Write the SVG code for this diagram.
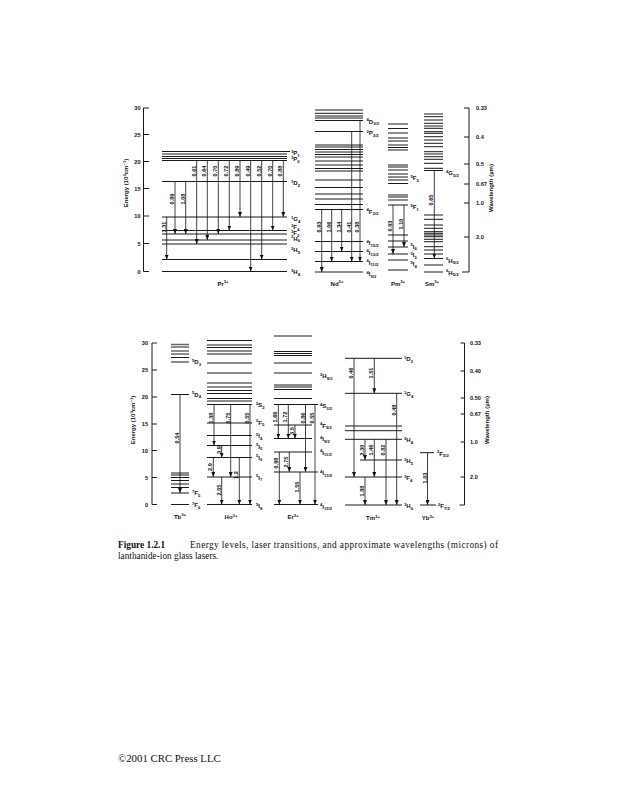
<svg xmlns="http://www.w3.org/2000/svg" width="617" height="800" viewBox="0 0 617 800">
<style>
.bg{fill:#fff}
.lv{stroke:#1a1a1a;stroke-width:1;fill:none}
.lg{stroke:#666;stroke-width:1.6;fill:none}
.ax{stroke:#1a1a1a;stroke-width:1;fill:none}
.ar{stroke:#111;stroke-width:0.8;fill:none;marker-end:url(#ah)}
text{font-family:"Liberation Sans",Arial,sans-serif;fill:#111}
.n{font-size:5.6px;font-weight:bold;text-anchor:middle}
.t{font-size:6px;font-weight:bold}
.s{font-size:4.2px}
.ion{font-size:6px;font-weight:bold;text-anchor:middle}
.tk{font-size:5.6px;font-weight:bold}
.tl{text-anchor:end}
.al{font-size:6px;font-weight:bold;text-anchor:middle}
.cap{font-family:"Liberation Serif","Times New Roman",serif;font-size:9.3px}
</style>
<defs>
<marker id="ah" viewBox="0 0 10 8" refX="10" refY="4" markerWidth="5" markerHeight="4" orient="auto" markerUnits="userSpaceOnUse"><path d="M0,0L10,4L0,8z" fill="#111"/></marker>
</defs>
<rect class="bg" x="0" y="0" width="617" height="800"/>

<!-- TOP AXES -->
<g id="axes-top">
<path class="ax" d="M143.5 108V271.5M143.5 108h5.5M143.5 134.5h5.5M143.5 161.5h5.5M143.5 188.5h5.5M143.5 216h5.5M143.5 243.5h5.5M143.5 271.5h5.5"/>
<text class="tk tl" x="140.5" y="110">30</text>
<text class="tk tl" x="140.5" y="136.5">25</text>
<text class="tk tl" x="140.5" y="163.5">20</text>
<text class="tk tl" x="140.5" y="190.5">15</text>
<text class="tk tl" x="140.5" y="218">10</text>
<text class="tk tl" x="140.5" y="245.5">5</text>
<text class="tk tl" x="140.5" y="273.5">0</text>
<text class="al" transform="translate(128 183) rotate(-90)">Energy (10<tspan class="s" dy="-2">3</tspan><tspan dy="2">cm</tspan><tspan class="s" dy="-2">−1</tspan><tspan dy="2">)</tspan></text>
<path class="ax" d="M469 108V272M469 108h-5M469 137h-5M469 164h-5M469 184h-5M469 203h-5M469 237h-5M469 272h-7"/>
<text class="tk" x="476" y="110">0.33</text>
<text class="tk" x="476" y="139">0.4</text>
<text class="tk" x="476" y="166">0.5</text>
<text class="tk" x="476" y="186">0.67</text>
<text class="tk" x="476" y="205">1.0</text>
<text class="tk" x="476" y="239">2.0</text>
<text class="al" transform="translate(493 188) rotate(-90)">Wavelength (µm)</text>
</g>

<!-- Pr -->
<g id="pr">
<path class="lv" d="M162 151.5h128M162 154h125M162 156.5h125M162 158.5h125M162 160.5h125M162 181.5h125M162 217h125M162 230.5h125M162 234h125M162 240h125M162 244h125M162 259.5h125M162 271.5h125"/>
<text class="t" x="291" y="155"><tspan class="s" dy="-2.2">3</tspan><tspan dy="2.2">P</tspan><tspan class="s" dy="1.6">1</tspan></text>
<text class="t" x="291" y="161"><tspan class="s" dy="-2.2">3</tspan><tspan dy="2.2">P</tspan><tspan class="s" dy="1.6">0</tspan></text>
<text class="t" x="291" y="185"><tspan class="s" dy="-2.2">1</tspan><tspan dy="2.2">D</tspan><tspan class="s" dy="1.6">2</tspan></text>
<text class="t" x="291" y="221"><tspan class="s" dy="-2.2">1</tspan><tspan dy="2.2">G</tspan><tspan class="s" dy="1.6">4</tspan></text>
<text class="t" x="291" y="229"><tspan class="s" dy="-2.2">3</tspan><tspan dy="2.2">F</tspan><tspan class="s" dy="1.6">4</tspan></text>
<text class="t" x="291" y="235"><tspan class="s" dy="-2.2">3</tspan><tspan dy="2.2">F</tspan><tspan class="s" dy="1.6">2</tspan></text>
<text class="t" x="291" y="240.5"><tspan class="s" dy="-2.2">3</tspan><tspan dy="2.2">H</tspan><tspan class="s" dy="1.6">6</tspan></text>
<text class="t" x="291" y="252"><tspan class="s" dy="-2.2">3</tspan><tspan dy="2.2">H</tspan><tspan class="s" dy="1.6">5</tspan></text>
<text class="t" x="291" y="274"><tspan class="s" dy="-2.2">3</tspan><tspan dy="2.2">H</tspan><tspan class="s" dy="1.6">4</tspan></text>
<text class="ion" x="223" y="285.5">Pr<tspan class="s" dy="-2.5">3+</tspan></text>
</g>

<!-- Nd -->
<g id="nd">
<path class="lv" d="M315 110h48M315 113.3h48M315 116h48M315 118h48M315 120.5h48M315 131.5h48M315 145h48M315 147h48M315 149.5h48M315 152h48M315 154.5h48M315 157h48M315 161h48M315 165h48M315 168.5h48M315 171h48M315 187.5h48M315 194h48M315 199h48M315 204.5h48M315 209.5h48M315 241.5h48M315 251.5h48M315 261.5h48M315 272h48"/>
<path class="lg" d="M315 180h48"/>
<text class="t" x="366.5" y="123.5"><tspan class="s" dy="-2.2">4</tspan><tspan dy="2.2">D</tspan><tspan class="s" dy="1.6">3/2</tspan></text>
<text class="t" x="366.5" y="135"><tspan class="s" dy="-2.2">2</tspan><tspan dy="2.2">P</tspan><tspan class="s" dy="1.6">3/2</tspan></text>
<text class="t" x="366.5" y="213.5"><tspan class="s" dy="-2.2">4</tspan><tspan dy="2.2">F</tspan><tspan class="s" dy="1.6">3/2</tspan></text>
<text class="t" x="366.5" y="245"><tspan class="s" dy="-2.2">4</tspan><tspan dy="2.2">I</tspan><tspan class="s" dy="1.6">15/2</tspan></text>
<text class="t" x="366.5" y="254.5"><tspan class="s" dy="-2.2">4</tspan><tspan dy="2.2">I</tspan><tspan class="s" dy="1.6">13/2</tspan></text>
<text class="t" x="366.5" y="264.5"><tspan class="s" dy="-2.2">4</tspan><tspan dy="2.2">I</tspan><tspan class="s" dy="1.6">11/2</tspan></text>
<text class="t" x="366.5" y="276"><tspan class="s" dy="-2.2">4</tspan><tspan dy="2.2">I</tspan><tspan class="s" dy="1.6">9/2</tspan></text>
<text class="ion" x="337" y="285.5">Nd<tspan class="s" dy="-2.5">3+</tspan></text>
</g>

<!-- Pm -->
<g id="pm">
<path class="lv" d="M388 124h20M388 128.5h20M388 133h20M388 138h20M388 141h20M388 145h20M388 147.5h20M388 150h20M388 165h20M388 167h20M388 170h20M388 174h20M388 177h20M388 180h20M388 183.5h20M388 195h20M388 197h20M388 200h20M388 205h20M388 235h20M388 241h20M388 247h20M388 254h20M388 260h20M388 270h20"/>
<text class="t" x="410.5" y="180"><tspan class="s" dy="-2.2">5</tspan><tspan dy="2.2">F</tspan><tspan class="s" dy="1.6">5</tspan></text>
<text class="t" x="410.5" y="209"><tspan class="s" dy="-2.2">5</tspan><tspan dy="2.2">F</tspan><tspan class="s" dy="1.6">1</tspan></text>
<text class="t" x="410.5" y="248.5"><tspan class="s" dy="-2.2">5</tspan><tspan dy="2.2">I</tspan><tspan class="s" dy="1.6">6</tspan></text>
<text class="t" x="410.5" y="257"><tspan class="s" dy="-2.2">5</tspan><tspan dy="2.2">I</tspan><tspan class="s" dy="1.6">5</tspan></text>
<text class="t" x="410.5" y="266"><tspan class="s" dy="-2.2">5</tspan><tspan dy="2.2">I</tspan><tspan class="s" dy="1.6">4</tspan></text>
<text class="ion" x="398" y="285.5">Pm<tspan class="s" dy="-2.5">3+</tspan></text>
</g>

<!-- Sm -->
<g id="sm">
<path class="lv" d="M424 114h19M424 116.7h19M424 120h19M424 123.3h19M424 126h19M424 128.3h19M424 131.7h19M424 133.3h19M424 136.7h19M424 140h19M424 143.3h19M424 146.7h19M424 151.7h19M424 154h19M424 156.7h19M424 159.3h19M424 163.3h19M424 168.3h19M424 170.5h19M424 215h19M424 219.3h19M424 225h19M424 228.3h19M424 231.7h19M424 233.3h19M424 235h19M424 236.7h19M424 239.3h19M424 241.7h19M424 246.7h19M424 250h19M424 254h19M424 258.5h19M424 265h19M424 272h19"/>
<text class="t" x="446" y="175"><tspan class="s" dy="-2.2">4</tspan><tspan dy="2.2">G</tspan><tspan class="s" dy="1.6">5/2</tspan></text>
<text class="t" x="446" y="262.5"><tspan class="s" dy="-2.2">6</tspan><tspan dy="2.2">H</tspan><tspan class="s" dy="1.6">9/2</tspan></text>
<text class="t" x="446" y="274.5"><tspan class="s" dy="-2.2">6</tspan><tspan dy="2.2">H</tspan><tspan class="s" dy="1.6">5/2</tspan></text>
<text class="ion" x="432" y="285.5">Sm<tspan class="s" dy="-2.5">3+</tspan></text>
</g>

<!-- BOTTOM AXES -->
<g id="axes-bottom">
<path class="ax" d="M152 343V504.5M152 343h5M152 370h5M152 397h5M152 424h5M152 450.5h5M152 477.5h5M152 504.5h5"/>
<text class="tk tl" x="148" y="345">30</text>
<text class="tk tl" x="148" y="372">25</text>
<text class="tk tl" x="148" y="399">20</text>
<text class="tk tl" x="148" y="426">15</text>
<text class="tk tl" x="148" y="452.5">10</text>
<text class="tk tl" x="148" y="479.5">5</text>
<text class="tk tl" x="148" y="506.5">0</text>
<text class="al" transform="translate(135 420) rotate(-90)">Energy (10<tspan class="s" dy="-2">3</tspan><tspan dy="2">cm</tspan><tspan class="s" dy="-2">−1</tspan><tspan dy="2">)</tspan></text>
<path class="ax" d="M464.5 343V505M464.5 343h-4M464.5 371h-4M464.5 398h-4M464.5 414h-4M464.5 442h-4M464.5 477h-4M464.5 505h-5"/>
<text class="tk" x="470" y="345">0.33</text>
<text class="tk" x="470" y="373">0.40</text>
<text class="tk" x="470" y="400">0.50</text>
<text class="tk" x="470" y="416">0.67</text>
<text class="tk" x="470" y="444">1.0</text>
<text class="tk" x="470" y="479">2.0</text>
<text class="al" transform="translate(489 420) rotate(-90)">Wavelength (µm)</text>
</g>

<!-- Tb -->
<g id="tb">
<path class="lg" d="M171 344.5h18M171 475h18"/>
<path class="lv" d="M171 347h18M171 351h18M171 354h18M171 357.5h18M171 362h18M171 394.5h18M171 473h18M171 477.5h18M171 480.5h18M171 484h18M171 487.5h18M171 493h18M171 504.5h18"/>
<text class="t" x="192" y="364"><tspan class="s" dy="-2.2">5</tspan><tspan dy="2.2">D</tspan><tspan class="s" dy="1.6">3</tspan></text>
<text class="t" x="192" y="396.5"><tspan class="s" dy="-2.2">5</tspan><tspan dy="2.2">D</tspan><tspan class="s" dy="1.6">4</tspan></text>
<text class="t" x="192" y="495"><tspan class="s" dy="-2.2">7</tspan><tspan dy="2.2">F</tspan><tspan class="s" dy="1.6">5</tspan></text>
<text class="t" x="192" y="507"><tspan class="s" dy="-2.2">7</tspan><tspan dy="2.2">F</tspan><tspan class="s" dy="1.6">6</tspan></text>
<text class="ion" x="180" y="518.5">Tb<tspan class="s" dy="-2.5">3+</tspan></text>
</g>

<!-- Ho -->
<g id="ho">
<path class="lg" d="M207 345h45"/>
<path class="lv" d="M207 340.5h45M207 347.5h45M207 351h45M207 354h45M207 363h45M207 373h45M207 383h45M207 387h45M207 390.5h45M207 393.5h45M207 398.5h45M207 401h45M207 404.5h45M207 423h45M207 435.5h45M207 445.5h45M207 457.5h45M207 477h45M207 504.5h45"/>
<text class="t" x="256" y="407"><tspan class="s" dy="-2.2">5</tspan><tspan dy="2.2">S</tspan><tspan class="s" dy="1.6">2</tspan></text>
<text class="t" x="256" y="424.5"><tspan class="s" dy="-2.2">5</tspan><tspan dy="2.2">F</tspan><tspan class="s" dy="1.6">5</tspan></text>
<text class="t" x="256" y="438"><tspan class="s" dy="-2.2">5</tspan><tspan dy="2.2">I</tspan><tspan class="s" dy="1.6">4</tspan></text>
<text class="t" x="256" y="448.5"><tspan class="s" dy="-2.2">5</tspan><tspan dy="2.2">I</tspan><tspan class="s" dy="1.6">5</tspan></text>
<text class="t" x="256" y="459.5"><tspan class="s" dy="-2.2">5</tspan><tspan dy="2.2">I</tspan><tspan class="s" dy="1.6">6</tspan></text>
<text class="t" x="256" y="479.5"><tspan class="s" dy="-2.2">5</tspan><tspan dy="2.2">I</tspan><tspan class="s" dy="1.6">7</tspan></text>
<text class="t" x="256" y="508"><tspan class="s" dy="-2.2">5</tspan><tspan dy="2.2">I</tspan><tspan class="s" dy="1.6">8</tspan></text>
<text class="ion" x="231" y="519">Ho<tspan class="s" dy="-2.5">3+</tspan></text>
</g>

<!-- Er -->
<g id="er">
<path class="lv" d="M274 336h38M274 351.5h38M274 353.5h38M274 355.5h38M274 363h38M274 373h38M274 385h38M274 387h38M274 389.5h38M274 398.5h38M274 404.5h44M274 425h38M274 438.5h38M274 452h38M274 472h44M274 504.5h44"/>
<text class="t" x="320" y="378"><tspan class="s" dy="-2.2">2</tspan><tspan dy="2.2">H</tspan><tspan class="s" dy="1.6">9/2</tspan></text>
<text class="t" x="320" y="408"><tspan class="s" dy="-2.2">4</tspan><tspan dy="2.2">S</tspan><tspan class="s" dy="1.6">3/2</tspan></text>
<text class="t" x="320" y="427.5"><tspan class="s" dy="-2.2">4</tspan><tspan dy="2.2">F</tspan><tspan class="s" dy="1.6">9/2</tspan></text>
<text class="t" x="320" y="441"><tspan class="s" dy="-2.2">4</tspan><tspan dy="2.2">I</tspan><tspan class="s" dy="1.6">9/2</tspan></text>
<text class="t" x="320" y="454.5"><tspan class="s" dy="-2.2">4</tspan><tspan dy="2.2">I</tspan><tspan class="s" dy="1.6">11/2</tspan></text>
<text class="t" x="320" y="475"><tspan class="s" dy="-2.2">4</tspan><tspan dy="2.2">I</tspan><tspan class="s" dy="1.6">13/2</tspan></text>
<text class="t" x="320" y="508.5"><tspan class="s" dy="-2.2">4</tspan><tspan dy="2.2">I</tspan><tspan class="s" dy="1.6">15/2</tspan></text>
<text class="ion" x="293" y="519">Er<tspan class="s" dy="-2.5">3+</tspan></text>
</g>

<!-- Tm -->
<g id="tm">
<path class="lv" d="M345 358.3h57M345 393.3h57M345 426h57M345 430.7h57M345 439.3h57M360 460h42M345 477h57M345 505h57"/>
<text class="t" x="404" y="361"><tspan class="s" dy="-2.2">1</tspan><tspan dy="2.2">D</tspan><tspan class="s" dy="1.6">2</tspan></text>
<text class="t" x="404" y="396"><tspan class="s" dy="-2.2">1</tspan><tspan dy="2.2">G</tspan><tspan class="s" dy="1.6">4</tspan></text>
<text class="t" x="404" y="442"><tspan class="s" dy="-2.2">3</tspan><tspan dy="2.2">H</tspan><tspan class="s" dy="1.6">4</tspan></text>
<text class="t" x="404" y="463"><tspan class="s" dy="-2.2">3</tspan><tspan dy="2.2">H</tspan><tspan class="s" dy="1.6">5</tspan></text>
<text class="t" x="404" y="480"><tspan class="s" dy="-2.2">3</tspan><tspan dy="2.2">F</tspan><tspan class="s" dy="1.6">4</tspan></text>
<text class="t" x="404" y="508"><tspan class="s" dy="-2.2">3</tspan><tspan dy="2.2">H</tspan><tspan class="s" dy="1.6">6</tspan></text>
<text class="ion" x="373" y="520">Tm<tspan class="s" dy="-2.5">3+</tspan></text>
</g>

<!-- Yb -->
<g id="yb">
<path class="lv" d="M420 452.7h14M420 505h16"/>
<text class="t" x="437" y="455.5"><tspan class="s" dy="-2.2">2</tspan><tspan dy="2.2">F</tspan><tspan class="s" dy="1.6">5/2</tspan></text>
<text class="t" x="438" y="508"><tspan class="s" dy="-2.2">2</tspan><tspan dy="2.2">F</tspan><tspan class="s" dy="1.6">7/2</tspan></text>
<text class="ion" x="428" y="520">Yb<tspan class="s" dy="-2.5">3+</tspan></text>
</g>

<!-- CONNECTORS (laser transitions) -->
<g id="connectors">
<!-- Pr -->
<path class="ar" d="M166.7 217V259.5"/>
<path class="ar" d="M175 181.5V234"/>
<path class="ar" d="M185.7 181.5V234"/>
<path class="ar" d="M196.7 160.5V244"/>
<path class="ar" d="M207.3 160.5V240"/>
<path class="ar" d="M218.3 160.5V234"/>
<path class="ar" d="M229.3 160.5V230.5"/>
<path class="ar" d="M240 160.5V217"/>
<path class="ar" d="M250.7 160.5V271.5"/>
<path class="ar" d="M261.7 160.5V259.5"/>
<path class="ar" d="M272.7 160.5V230.5"/>
<path class="ar" d="M283.3 160.5V217"/>
<text class="n" transform="translate(165.7 227) rotate(-90)">1.31</text>
<text class="n" transform="translate(174 199) rotate(-90)">0.89</text>
<text class="n" transform="translate(184.7 199) rotate(-90)">1.08</text>
<text class="n" transform="translate(195.7 171) rotate(-90)">0.61</text>
<text class="n" transform="translate(206.3 171) rotate(-90)">0.64</text>
<text class="n" transform="translate(217.3 171) rotate(-90)">0.70</text>
<text class="n" transform="translate(228.3 171) rotate(-90)">0.72</text>
<text class="n" transform="translate(239 171) rotate(-90)">0.89</text>
<text class="n" transform="translate(249.7 171) rotate(-90)">0.49</text>
<text class="n" transform="translate(260.7 171) rotate(-90)">0.52</text>
<text class="n" transform="translate(271.7 171) rotate(-90)">0.70</text>
<text class="n" transform="translate(282.3 171) rotate(-90)">0.88</text>
<!-- Nd -->
<path class="ar" d="M321.7 209.5V272"/>
<path class="ar" d="M331.7 209.5V261.5"/>
<path class="ar" d="M341.7 209.5V251.5"/>
<path class="ar" d="M351.7 131.5V261.5"/>
<path class="ar" d="M360 120.5V261.5"/>
<text class="n" transform="translate(320.7 227) rotate(-90)">0.93</text>
<text class="n" transform="translate(330.7 227) rotate(-90)">1.06</text>
<text class="n" transform="translate(340.7 227) rotate(-90)">1.34</text>
<text class="n" transform="translate(350.7 227) rotate(-90)">0.41</text>
<text class="n" transform="translate(359 227) rotate(-90)">0.38</text>
<!-- Pm -->
<path class="ar" d="M393 205V254"/>
<path class="ar" d="M404 205V247"/>
<text class="n" transform="translate(392 226) rotate(-90)">0.93</text>
<text class="n" transform="translate(403 224) rotate(-90)">1.10</text>
<!-- Sm -->
<path class="ar" d="M434.3 170.5V258.5"/>
<text class="n" transform="translate(433.3 200) rotate(-90)">0.65</text>
<!-- Tb -->
<path class="ar" d="M180 394.5V493"/>
<text class="n" transform="translate(179 438) rotate(-90)">0.54</text>
<!-- Ho -->
<path class="ar" d="M214 404.5V445.5"/>
<path class="ar" d="M221.7 445.5V457.5"/>
<path class="ar" d="M213.3 457.5V477"/>
<path class="ar" d="M221.7 477V504.5"/>
<path class="ar" d="M230.7 404.5V477"/>
<path class="ar" d="M239.3 457.5V504.5"/>
<path class="ar" d="M250 404.5V504.5"/>
<text class="n" transform="translate(213 418) rotate(-90)">1.38</text>
<text class="n" transform="translate(220.7 450) rotate(-90)">3.9</text>
<text class="n" transform="translate(212.3 467) rotate(-90)">2.9</text>
<text class="n" transform="translate(220.7 490) rotate(-90)">2.05</text>
<text class="n" transform="translate(229.7 418) rotate(-90)">0.75</text>
<text class="n" transform="translate(238.3 475) rotate(-90)">1.2</text>
<text class="n" transform="translate(249 418) rotate(-90)">0.55</text>
<!-- Er -->
<path class="ar" d="M278.3 404.5V438.5"/>
<path class="ar" d="M288.3 404.5V438.5"/>
<path class="ar" d="M295 425V438.5"/>
<path class="ar" d="M305.5 404.5V472"/>
<path class="ar" d="M315 404.5V504.5"/>
<path class="ar" d="M279.3 452V504.5"/>
<path class="ar" d="M289.3 452V472"/>
<path class="ar" d="M300 472V504.5"/>
<text class="n" transform="translate(277.3 417) rotate(-90)">1.66</text>
<text class="n" transform="translate(287.3 417) rotate(-90)">1.72</text>
<text class="n" transform="translate(294 431) rotate(-90)">3.5</text>
<text class="n" transform="translate(304.5 418) rotate(-90)">0.86</text>
<text class="n" transform="translate(314 418) rotate(-90)">0.55</text>
<text class="n" transform="translate(278.3 463) rotate(-90)">0.98</text>
<text class="n" transform="translate(288.3 462) rotate(-90)">2.75</text>
<text class="n" transform="translate(299 487) rotate(-90)">1.55</text>
<!-- Tm -->
<path class="ar" d="M354 358.3V477"/>
<path class="ar" d="M374.3 358.3V393.3"/>
<path class="ar" d="M396.7 393.3V505"/>
<path class="ar" d="M365 439.3V460"/>
<path class="ar" d="M374.3 439.3V477"/>
<path class="ar" d="M386 439.3V505"/>
<path class="ar" d="M365 477V505"/>
<text class="n" transform="translate(353 373) rotate(-90)">0.46</text>
<text class="n" transform="translate(373.3 373) rotate(-90)">1.51</text>
<text class="n" transform="translate(395.7 410) rotate(-90)">0.48</text>
<text class="n" transform="translate(364 450) rotate(-90)">2.30</text>
<text class="n" transform="translate(373.3 450) rotate(-90)">1.46</text>
<text class="n" transform="translate(385 450) rotate(-90)">0.82</text>
<text class="n" transform="translate(364 491) rotate(-90)">1.88</text>
<!-- Yb -->
<path class="ar" d="M427.5 452.7V505"/>
<text class="n" transform="translate(426.5 478) rotate(-90)">1.03</text>
</g>

<!-- Caption and footer -->
<g id="caption">
<text class="cap" x="118" y="547.5" font-weight="bold">Figure 1.2.1</text>
<text class="cap" x="190" y="547.5" textLength="308" lengthAdjust="spacing">Energy levels, laser transitions, and approximate wavelengths (microns) of</text>
<text class="cap" x="118" y="558.5">lanthanide-ion glass lasers.</text>
</g>
<g id="footer">
<text class="cap" x="118" y="761.5" style="font-size:10.8px">©2001 CRC Press LLC</text>
</g>
</svg>
